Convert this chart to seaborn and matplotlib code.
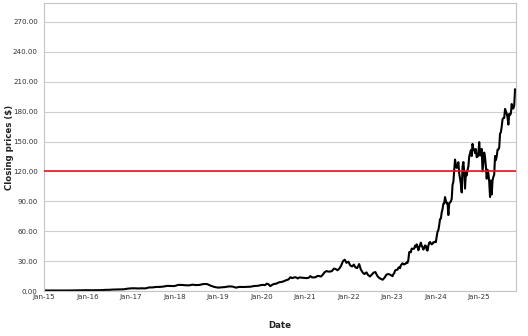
import matplotlib
matplotlib.use("Agg")
import matplotlib.pyplot as plt
import matplotlib.dates as mdates
from matplotlib.ticker import FuncFormatter, MultipleLocator
import seaborn as sns
import pandas as pd

# ---- data (split-adjusted closing prices) ----
monthly_2015_2019 = [
    0.50, 0.48, 0.55, 0.52, 0.55, 0.55, 0.50, 0.50, 0.56, 0.62, 0.71, 0.80,
    0.82, 0.73, 0.78, 0.89, 0.89, 1.15, 1.17, 1.43, 1.53, 1.71, 1.72, 2.30,
    2.67, 2.73, 2.54, 2.72, 2.60, 3.55, 3.60, 4.10, 4.12, 4.47, 5.17, 5.00,
    4.98, 6.10, 6.10, 5.79, 5.62, 6.34, 5.92, 6.12, 7.03, 7.00, 5.30, 4.10,
    3.40, 3.70, 3.95, 4.60, 4.50, 3.40, 4.10, 4.00, 4.15, 4.30, 5.00, 5.20,
]
semimonthly_2020_2022 = [
    6.00, 6.15, 5.90, 7.40, 6.70, 4.90, 6.20, 7.10, 7.20, 8.05, 8.85, 9.00,
    9.50, 10.30, 11.00, 11.60, 13.80, 12.90, 13.60, 13.80, 12.60, 13.60, 13.40, 13.30,
    13.10, 12.90, 13.30, 14.90, 13.70, 13.60, 13.90, 15.10, 15.00, 14.50, 16.60, 18.90,
    20.00, 19.50, 19.50, 20.00, 22.50, 22.10, 20.80, 22.30, 25.50, 29.80, 31.40, 28.30,
    29.40, 25.80, 24.60, 26.50, 23.60, 23.00, 27.00, 21.50, 18.50, 17.00, 18.70, 16.00,
    14.60, 16.40, 18.50, 19.00, 15.00, 13.20, 12.10, 11.30, 13.50, 16.30, 17.10, 16.50,
]
weekly_2023 = [
    14.9, 16.9, 17.8, 20.3, 21.1, 21.3, 21.4, 23.3, 23.9, 22.9, 25.7, 26.7, 27.8,
    27.0, 26.7, 27.1, 27.7, 28.7, 28.3, 31.2, 38.9, 39.3, 38.8, 42.6, 42.2, 42.3,
    42.5, 45.5, 44.4, 46.8, 44.6, 40.9, 43.3, 46.0, 48.5, 45.5, 43.9, 41.6, 43.5,
    45.7, 45.4, 41.3, 40.5, 45.4, 48.3, 49.2, 47.8, 46.8, 47.5, 48.9, 48.9, 49.5,
]
weekly_2024 = [
    49.0, 54.7, 59.5, 61.0, 66.1, 72.1, 72.6, 78.8, 82.2, 87.5, 87.9, 94.3, 90.4,
    88.0, 88.1, 76.2, 87.8, 88.8, 89.9, 92.5, 106.5, 109.6, 120.9, 131.9, 126.6, 123.5,
    125.8, 129.2, 117.9, 113.1, 107.3, 98.9, 124.6, 129.4, 119.4, 102.8, 119.1, 116.0, 121.4,
    124.9, 134.8, 138.0, 141.5, 135.4, 147.6, 142.0, 142.0, 138.3, 142.4, 134.3, 134.7, 137.0,
]
weekly_2025 = [
    149.4, 135.9, 137.7, 142.6, 120.1, 129.8, 138.9, 134.4, 124.9, 112.7, 121.7, 117.7, 109.7,
    94.3, 110.9, 96.9, 111.0, 114.5, 116.7, 135.4, 131.3, 135.1, 141.7, 142.0, 143.9, 157.8,
    159.3, 164.9, 172.4, 173.5, 173.7, 182.7, 180.5, 178.0, 174.2, 167.0, 177.8, 176.7, 178.2,
    187.6, 183.2, 183.2, 186.3, 202.5,
]
reference_level = 120.0
y_label = "Closing prices ($)"
x_label = "Date"

dates = (
    list(pd.date_range("2015-01-01", periods=len(monthly_2015_2019), freq="MS"))
    + list(pd.date_range("2020-01-01", periods=len(semimonthly_2020_2022), freq="SMS"))
    + list(pd.date_range("2023-01-06", periods=len(weekly_2023) + len(weekly_2024) + len(weekly_2025), freq="W-FRI"))
)
prices = monthly_2015_2019 + semimonthly_2020_2022 + weekly_2023 + weekly_2024 + weekly_2025
df = pd.DataFrame({"Date": dates, "Close": prices})

# ---- plot ----
sns.set_style("white")
plt.rcParams["font.family"] = ["DejaVu Sans"]

fig = plt.figure(figsize=(5.28, 3.36), dpi=100)
ax = fig.add_axes([44 / 528, 1 - 291 / 336, (516 - 44) / 528, (291 - 3) / 336])

sns.lineplot(data=df, x="Date", y="Close", ax=ax, color="black", linewidth=1.5)
ax.axhline(reference_level, color="#e8141c", linewidth=1.2, zorder=3)

ax.set_xlim(pd.Timestamp("2015-01-01"), pd.Timestamp("2025-11-08"))
ax.set_ylim(0, 289)
ax.yaxis.set_major_locator(MultipleLocator(30))
ax.yaxis.set_major_formatter(FuncFormatter(lambda v, p: f"{v:.2f}"))
ax.xaxis.set_major_locator(mdates.YearLocator(1, month=1, day=1))
ax.xaxis.set_major_formatter(mdates.DateFormatter("%b-%y"))

ax.grid(axis="y", color="#cfcfcf", linewidth=0.8)
ax.grid(axis="x", visible=False)
ax.set_axisbelow(True)
for s in ax.spines.values():
    s.set_color("#c4c4c4")
    s.set_linewidth(0.8)

ax.tick_params(axis="both", length=0, labelsize=5.1, colors="#333333")
ax.tick_params(axis="x", pad=2)
ax.tick_params(axis="y", pad=4.5)

ax.set_xlabel(x_label, fontsize=6.2, fontweight="bold", color="#222222")
ax.set_ylabel(y_label, fontsize=6.2, fontweight="bold", color="#222222")
ax.xaxis.set_label_coords(0.5, (291 - 321) / 288)
ax.yaxis.set_label_coords((14 - 44) / 472, 0.5)

fig.savefig("out.png", dpi=100)
